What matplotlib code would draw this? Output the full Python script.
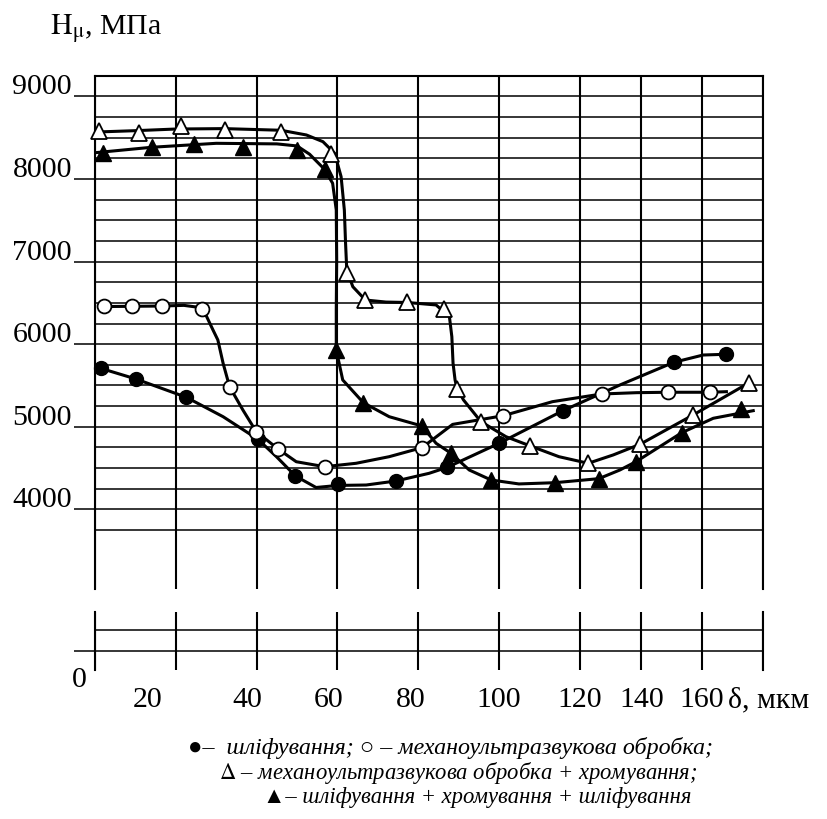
import numpy as np
import matplotlib
matplotlib.use("Agg")
import matplotlib.pyplot as plt

plt.rcParams['font.family'] = ['Liberation Serif', 'DejaVu Serif', 'DejaVu Sans']
plt.rcParams['mathtext.fontset'] = 'stix'

# --- data (delta in um, H in MPa) ---
# filled circles: grinding
d_grind = [1.4, 10.1, 22.6, 40.3, 49.6, 60.1, 74.5, 87.2, 100, 115.8, 150.8, 168.0]
h_grind = [5708, 5579, 5357, 4849, 4404, 4308, 4344, 4510, 4800, 5195, 5781, 5878]
d_grind_line = [1.4, 10.1, 22.6, 31.7, 40.3, 44.9, 49.6, 54.7, 60.1, 67.1, 74.5, 82.7,
                87.2, 100, 115.8, 133.1, 150.8, 160.4, 168.0]
h_grind_line = [5708, 5579, 5357, 5122, 4849, 4638, 4404, 4265, 4290, 4295, 4344, 4437,
                4510, 4800, 5195, 5506, 5781, 5869, 5878]

# open circles: mechano-ultrasonic treatment
d_mut = [2.2, 9.2, 16.5, 26.6, 33.3, 39.9, 45.4, 56.8, 80.9, 101.0, 127.1, 148.9, 162.6]
h_mut = [6462, 6462, 6462, 6423, 5485, 4941, 4728, 4517, 4747, 5134, 5397, 5418, 5418]
d_mut_line = [1, 16.5, 22, 26.6, 29.2, 30.4, 31.7, 33.3, 36.6, 39.9, 45.4, 49.8, 56.8, 64.6,
              72.8, 80.9, 88.5, 101.0, 113.2, 127.1, 138.6, 148.9, 162.6, 168]
h_mut_line = [6455, 6462, 6470, 6440, 6172, 6051, 5769, 5485, 5203, 4941, 4728, 4577, 4517,
              4558, 4638, 4747, 5029, 5134, 5304, 5397, 5413, 5418, 5418, 5425]

# open triangles: mechano-ultrasonic + chrome plating
d_mut_cr = [1.1, 10.9, 21.4, 32.1, 46.1, 58.4, 62.4, 66.9, 77.2, 86.4, 89.6, 95.5, 107.7,
            122.7, 139.7, 157.1, 175.5]
h_mut_cr = [8585, 8560, 8642, 8593, 8573, 8303, 6866, 6535, 6505, 6423, 5461, 5062, 4768,
            4558, 4788, 5143, 5534]
d_mut_cr_line = [1, 10, 20, 32, 46, 52.3, 56.4, 59.3, 60.9, 61.7, 62.0, 62.3, 63.8, 66.9,
                 72, 77.2, 84.4, 87.7, 88.3, 88.6, 89.1, 89.6, 91.2, 95.5, 101.7, 107.7,
                 114.8, 122.7, 130.9, 139.7, 157.1, 175.5]
h_mut_cr_line = [8570, 8585, 8605, 8610, 8590, 8533, 8452, 8311, 8028, 7625, 7225, 6898,
                 6696, 6535, 6510, 6505, 6475, 6333, 6091, 5769, 5567, 5461, 5324, 5062,
                 4880, 4768, 4638, 4558, 4659, 4788, 5143, 5534]

# filled triangles: grinding + chrome plating + grinding
d_gcg = [1.9, 14.1, 24.5, 36.6, 50.0, 56.8, 59.7, 66.4, 80.9, 88.1, 98.0, 113.8, 126.2,
         138.4, 153.4, 172.7]
h_gcg = [8318, 8391, 8420, 8384, 8351, 8117, 5930, 5292, 5010, 4679, 4356, 4323, 4372,
         4578, 4929, 5212]
d_gcg_line = [0, 14, 30, 45, 50, 53.1, 56.8, 58.8, 59.7, 59.8, 59.7, 59.7, 61.3, 66.4,
              72.8, 80.9, 84.4, 88.1, 92.6, 98.0, 104.9, 113.8, 126.2, 133.1, 138.4,
              153.4, 163.7, 176.8]
h_gcg_line = [8318, 8384, 8432, 8425, 8400, 8300, 8117, 7948, 7625, 7019, 6414, 5930,
              5567, 5292, 5122, 5010, 4800, 4679, 4477, 4356, 4308, 4323, 4372, 4477,
              4578, 4929, 5103, 5195]

x_grid = [0, 20, 40, 60, 80, 100, 120, 140, 160, 180]
x_labels = ['20', '40', '60', '80', '100', '120', '140', '160']
x_label_at = [20, 40, 60, 80, 100, 120, 140, 160]
y_labels = [4000, 5000, 6000, 7000, 8000, 9000]

legend_lines = ['●–  шліфування; ○ – механоультразвукова обробка;',
                r'$\Delta$ – механоультразвукова обробка + хромування;',
                '▲– шліфування + хромування + шліфування']


# the original x axis is compressed beyond 120 um
def fwd(d):
    d = np.asarray(d, dtype=float)
    return np.where(d <= 120, d * 4.04, 484.8 + (d - 120) * 3.05)


def inv(p):
    p = np.asarray(p, dtype=float)
    return np.where(p <= 484.8, p / 4.04, 120 + (p - 484.8) / 3.05)


W, H = 827, 819


def box(l, t, r, b):
    return [l / W, 1 - b / H, (r - l) / W, (b - t) / H]


fig = plt.figure(figsize=(W / 100, H / 100), dpi=100)
ax = fig.add_axes(box(95, 75.75, 763, 589))
ax2 = fig.add_axes(box(95, 611.7, 763, 670))

for a in (ax, ax2):
    a.set_xscale('function', functions=(fwd, inv))
    a.set_xlim(0, 180)
    a.set_xticks(x_grid)
    a.tick_params(axis='x', length=0, labelbottom=False)
    a.tick_params(axis='y', which='major', direction='out', length=15, width=1.1,
                  labelleft=False)
    a.tick_params(axis='y', which='minor', length=0)
    a.grid(True, axis='x', color='black', lw=1.5)
    a.grid(True, axis='y', which='both', color='black', lw=1.1)
    for s in a.spines.values():
        s.set_linewidth(1.5)
    a.spines['bottom'].set_visible(False)

ax.set_ylim(3036, 9250)
ax.set_yticks(y_labels)
ax.set_yticks(np.arange(3750, 9251, 250), minor=True)
ax2.set_ylim(-230, 476)
ax2.set_yticks([0])
ax2.set_yticks([250], minor=True)
ax2.spines['top'].set_visible(False)

lw = 2.2
ax.plot(d_grind_line, h_grind_line, color='black', lw=lw, solid_joinstyle='round', zorder=3)
ax.plot(d_mut_line, h_mut_line, color='black', lw=lw, solid_joinstyle='round', zorder=3)
ax.plot(d_mut_cr_line, h_mut_cr_line, color='black', lw=lw, solid_joinstyle='round', zorder=3)
ax.plot(d_gcg_line, h_gcg_line, color='black', lw=lw, solid_joinstyle='round', zorder=3)

ax.plot(d_grind, h_grind, 'o', ms=10, color='black', zorder=4, clip_on=False)
ax.plot(d_mut, h_mut, 'o', ms=10, mfc='white', mec='black', mew=1.3, zorder=4, clip_on=False)
ax.plot(d_mut_cr, h_mut_cr, '^', ms=11.5, mfc='white', mec='black', mew=1.3, zorder=4,
        clip_on=False)
ax.plot(d_gcg, h_gcg, '^', ms=11.5, color='black', zorder=4, clip_on=False)

# labels
fs = 21.5
for v in y_labels:
    ax.annotate(str(v), xy=(0, v), xycoords=('axes fraction', 'data'),
                xytext=(-23, 2), textcoords='offset pixels',
                ha='right', va='baseline', fontsize=fs)
ax2.annotate('0', xy=(0, 0), xycoords=('axes fraction', 'data'),
             xytext=(-8, -36), textcoords='offset pixels',
             ha='right', va='baseline', fontsize=fs)
shift = [-28, -9, -9, -8, 0, 0, 1, 0]
for lab, v, dx in zip(x_labels, x_label_at, shift):
    ax2.annotate(lab, xy=(v, 0), xycoords=('data', 'axes fraction'),
                 xytext=(dx, -37), textcoords='offset pixels',
                 ha='center', va='baseline', fontsize=fs)
ax2.annotate('δ, мкм', xy=(160, 0), xycoords=('data', 'axes fraction'),
             xytext=(26, -37), textcoords='offset pixels',
             ha='left', va='baseline', fontsize=fs)

fig.text(50 / W, 1 - 34 / H, r'$\mathrm{H}_{\mathrm{μ}}$, МПа', fontsize=fs, ha='left',
         va='baseline')

for i, (txt, cx, fsz) in enumerate(zip(legend_lines, [451, 458, 477], [17.3, 16.3, 16.3])):
    fig.text(cx / W, 1 - (748 + 24.5 * i) / H, txt, fontsize=fsz, style='italic',
             ha='center', va='center')

fig.savefig('out.png', dpi=100)
